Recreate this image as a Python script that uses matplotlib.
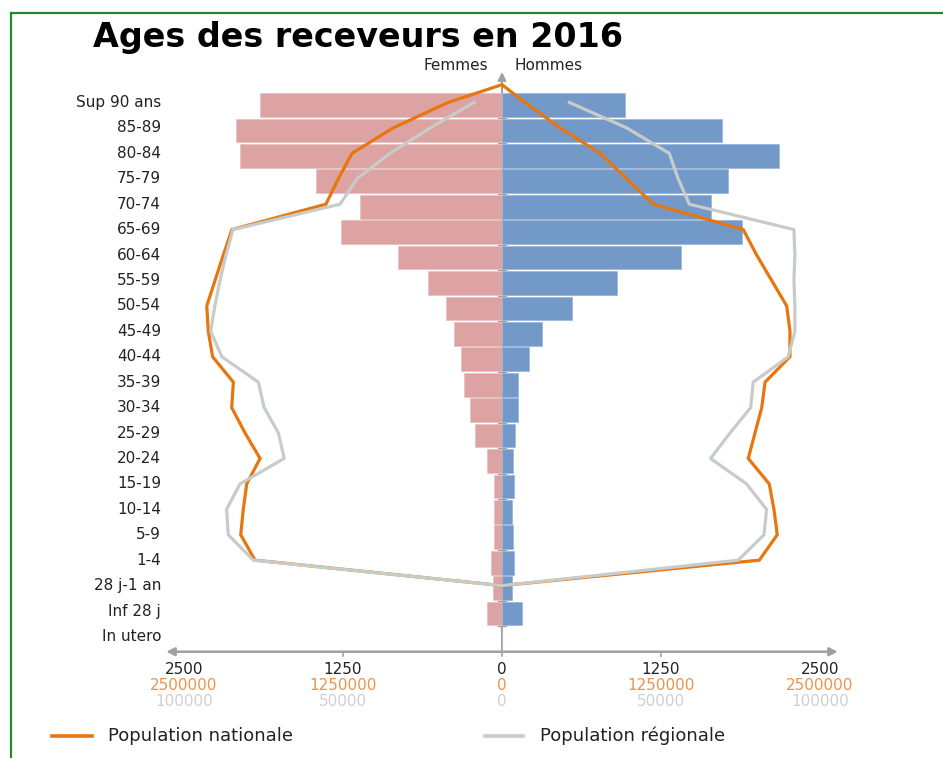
import numpy as np
import matplotlib.pyplot as plt
from matplotlib.lines import Line2D
from matplotlib.transforms import blended_transform_factory

# Tranches d'age (du haut vers le bas)
categories = ["Sup 90 ans", "85-89", "80-84", "75-79", "70-74", "65-69",
              "60-64", "55-59", "50-54", "45-49", "40-44", "35-39",
              "30-34", "25-29", "20-24", "15-19", "10-14", "5-9", "1-4",
              "28 j-1 an", "Inf 28 j", "In utero"]

# Receveurs
femmes = [1900, 2090, 2060, 1460, 1120, 1265, 820, 585, 440, 375, 322, 298,
          255, 213, 120, 66, 66, 66, 90, 72, 120, 0]
hommes = [967, 1730, 2180, 1775, 1645, 1890, 1410, 908, 547, 312, 213, 125,
          125, 104, 86, 94, 76, 86, 94, 76, 156, 0]

# Population nationale (Sup 90 ans -> 28 j-1 an)
nat_femmes = [424000, 855000, 1179000, 1287000, 1384000, 2123000, 2191000,
              2256000, 2321000, 2309000, 2275000, 2112000, 2125000, 2020000,
              1902000, 2007000, 2034000, 2054000, 1942000, 0]
nat_hommes = [180000, 456000, 770000, 980000, 1190000, 1897000, 2002000,
              2120000, 2238000, 2264000, 2264000, 2068000, 2042000, 1989000,
              1936000, 2101000, 2138000, 2164000, 2023000, 0]
nat_sommet = 0  # point de depart de la courbe nationale, au dessus de "Sup 90 ans"

# Population regionale (Sup 90 ans -> 28 j-1 an)
reg_femmes = [8800, 22600, 35200, 45600, 50900, 84600, 86800, 88700, 90300,
              91600, 88100, 76600, 74800, 70300, 68500, 82400, 86600, 86100,
              78200, 0]
reg_hommes = [21200, 39200, 52600, 55400, 58900, 91800, 92100, 91800, 92100,
              92100, 90000, 79000, 78200, 71700, 65600, 76900, 83200, 82400,
              74300, 0]

ticks = [-2500, -1250, 0, 1250, 2500]
ticks_nat = ["2500000", "1250000", "0", "1250000", "2500000"]
ticks_reg = ["100000", "50000", "0", "50000", "100000"]

ROSE = "#DDA3A3"
BLEU = "#7399C8"
ORANGE = "#E8760F"
GRIS_L = "#C8CCC8"
GRIS_A = "#A0A0A0"

W, H = 943, 758
fig = plt.figure(figsize=(W / 100, H / 100), dpi=100)
ax = fig.add_axes([152.2 / W, 1 - 656.8 / H, 699.6 / W, 587.4 / H])
ax.set_xlim(-2750, 2750)
ax.set_ylim(21.7, -1.4)
ax.axis("off")

y = np.arange(len(categories))

# axes centraux
ax.plot([0, 0], [21.5, -1.0], color=GRIS_A, lw=1.5, zorder=1)
ax.annotate("", xy=(0, -1.3), xytext=(0, -0.9),
            arrowprops=dict(arrowstyle="-|>", color=GRIS_A, lw=1.5,
                            mutation_scale=12, shrinkA=0, shrinkB=0))
ax.annotate("", xy=(-2640, 21.5), xytext=(2640, 21.5),
            arrowprops=dict(arrowstyle="<|-|>", color=GRIS_A, lw=1.8,
                            mutation_scale=12, shrinkA=0, shrinkB=0),
            zorder=1)
for t in ticks[1:-1]:
    ax.plot([t, t], [21.5, 21.68], color=GRIS_A, lw=1.2)
for b in y[:-1] + 0.5:
    ax.plot([-30, 30], [b, b], color=GRIS_A, lw=1.0, zorder=1)

# barres
ax.barh(y, [-v for v in femmes], height=0.93, color=ROSE,
        edgecolor="#E8C4C4", lw=0.6, zorder=2)
ax.barh(y, hommes, height=0.93, color=BLEU,
        edgecolor="#9DB8DB", lw=0.6, zorder=2)

# courbes
yl = y[:len(nat_femmes)] - 0.1
y_nat = np.concatenate([yl[::-1], [-0.8], yl])
x_nat = np.concatenate([[-v / 1000 for v in nat_femmes[::-1]], [nat_sommet],
                        [v / 1000 for v in nat_hommes]])
ax.plot(x_nat, y_nat, color=ORANGE, lw=2.3, zorder=3, solid_joinstyle="miter")

y_reg = np.concatenate([yl, yl[::-1]])
x_reg = np.concatenate([[-v / 40 for v in reg_femmes],
                        [v / 40 for v in reg_hommes[::-1]]])
ax.plot(x_reg, y_reg, color=GRIS_L, lw=2.3, zorder=3)

# etiquettes des tranches
tr = blended_transform_factory(fig.transFigure, ax.transData)
for i, c in enumerate(categories):
    ax.text(161 / W, i - 0.1, c, transform=tr, ha="right", va="center",
            fontsize=11, color="#222222")

# graduations
tr2 = blended_transform_factory(ax.transData, fig.transFigure)
for t, lab_n, lab_r in zip(ticks, ticks_nat, ticks_reg):
    ax.text(t, 1 - 670 / H, str(abs(t)), transform=tr2, ha="center",
            va="center", fontsize=11, color="#222222")
    ax.text(t, 1 - 686 / H, lab_n, transform=tr2, ha="center",
            va="center", fontsize=11, color="#F0924A")
    ax.text(t, 1 - 702 / H, lab_r, transform=tr2, ha="center",
            va="center", fontsize=11, color="#D0D0D0")

# titres
fig.text(93 / W, 1 - 38 / H, "Ages des receveurs en 2016", fontsize=24,
         fontweight="bold", va="center", ha="left")
fig.text(488 / W, 1 - 66 / H, "Femmes", fontsize=11, ha="right", va="center",
         color="#222222")
fig.text(515 / W, 1 - 66 / H, "Hommes", fontsize=11, ha="left", va="center",
         color="#222222")

# legende
fig.add_artist(Line2D([52 / W, 92 / W], [1 - 736 / H] * 2, color=ORANGE, lw=2.6))
fig.text(108 / W, 1 - 736 / H, "Population nationale", fontsize=13,
         va="center", color="#222222")
fig.add_artist(Line2D([485 / W, 523 / W], [1 - 736 / H] * 2, color=GRIS_L, lw=2.6))
fig.text(540 / W, 1 - 736 / H, "Population régionale", fontsize=13,
         va="center", color="#222222")

# cadre vert
fig.add_artist(Line2D([11 / W, 11 / W], [0, 1 - 13 / H], color="#1E8C1E", lw=1.6))
fig.add_artist(Line2D([11 / W, 1], [1 - 13 / H] * 2, color="#1E8C1E", lw=1.6))

fig.savefig("out.png", dpi=100)
